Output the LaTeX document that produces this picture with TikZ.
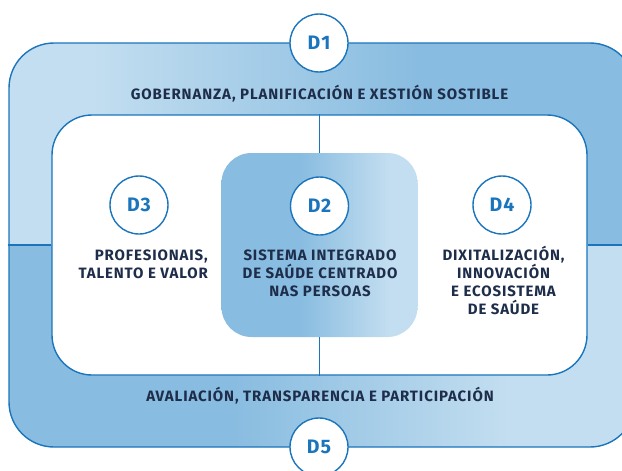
\documentclass[tikz,border=0pt]{standalone}
\usepackage{fontspec}
\setmainfont{Fira Sans}[LetterSpace=6]
\definecolor{lightb}{HTML}{C3DEF0}
\definecolor{darkb}{HTML}{88BCE0}
\definecolor{lineb}{HTML}{1A75BC}
\definecolor{navy}{HTML}{1E2D4A}
\pgfdeclarehorizontalshading{topband}{100bp}{color(0bp)=(lightb); color(31.5bp)=(lightb); color(57.8bp)=(darkb); color(100bp)=(darkb)}
\pgfdeclarehorizontalshading{botband}{100bp}{color(0bp)=(darkb); color(42.7bp)=(darkb); color(65bp)=(lightb); color(100bp)=(lightb)}
\pgfdeclarehorizontalshading{dtwo}{100bp}{color(0bp)=(darkb); color(44.9bp)=(darkb); color(67.9bp)=(lightb); color(100bp)=(lightb)}
\begin{document}
\begin{tikzpicture}[x=1pt,y=-1pt,
  frame/.style={draw=lineb, line width=1.4pt},
  dcircle/.style={circle, draw=lineb, line width=1.4pt, fill=white, minimum size=58pt, inner sep=0pt, text=lineb, font=\bfseries\fontsize{19.5}{19.5}\selectfont},
  lbl/.style={text=navy, font=\bfseries\fontsize{15}{17.7}\selectfont, inner sep=0pt},
  ttl/.style={text=navy, font=\bfseries\fontsize{15}{17}\selectfont, inner sep=0pt}]
\useasboundingbox (0,0) rectangle (622,471);
\clip (0,0) rectangle (622,471);
\node[frame, rounded corners=45pt, minimum width=626pt, minimum height=404pt, inner sep=0pt,
  path picture={
    \shade[sharp corners, shading=topband] (path picture bounding box.north west) rectangle (path picture bounding box.east);
    \shade[sharp corners, shading=botband] (path picture bounding box.west) rectangle (path picture bounding box.south east);
  }] (outer) at (322,245) {};
\node[frame, fill=white, rounded corners=40pt, minimum width=535pt, minimum height=260pt, inner sep=0pt] (inner) at (319.5,245) {};
\draw[frame] (outer.west) -- (inner.west);
\draw[frame] (inner.east) -- (outer.east);
\node[shade, shading=dtwo, rounded corners=30pt, minimum width=196pt, minimum height=184pt, inner sep=0pt] (d2box) at (319.5,245) {};
\draw[frame] (inner.north) -- (d2box.north);
\draw[frame] (d2box.south) -- (inner.south);
\node[dcircle] (d1) at (319,43) {D1};
\node[dcircle] (d2) at (319.5,206) {D2};
\node[dcircle] (d3) at (139,205) {D3};
\node[dcircle] (d4) at (502,205) {D4};
\node[dcircle] (d5) at (319,447) {D5};
\node[ttl, anchor=base] (t1) at (319.5,99) {GOBERNANZA, PLANIFICACIÓN E XESTIÓN SOSTIBLE};
\node[ttl, anchor=base] (t5) at (320,401) {AVALIACIÓN, TRANSPARENCIA E PARTICIPACIÓN};
\node[lbl, anchor=base, align=center] (t2) at (320,296) {SISTEMA INTEGRADO\\DE SAÚDE CENTRADO\\NAS PERSOAS};
\node[lbl, anchor=base east, align=right] (t3) at (208,278) {PROFESIONAIS,\\TALENTO E VALOR};
\node[lbl, anchor=base, align=center] (t4) at (503.5,314) {DIXITALIZACIÓN,\\INNOVACIÓN\\E ECOSISTEMA\\DE SAÚDE};
\end{tikzpicture}
\end{document}
